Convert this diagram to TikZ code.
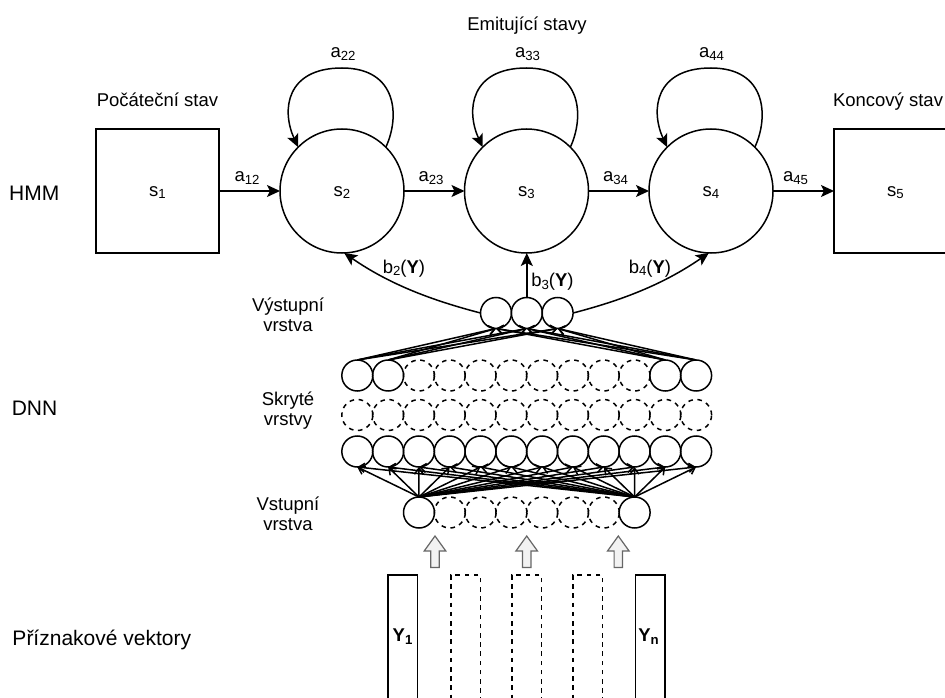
\documentclass[tikz,border=0pt]{standalone}
\usepackage{fontspec}
\setmainfont{Liberation Sans}
\usetikzlibrary{arrows.meta,calc}
\newcommand{\lsub}[1]{\raisebox{-2.5pt}{\fontsize{13.2}{14}\selectfont #1}}
\begin{document}
\begin{tikzpicture}[x=1pt,y=-1pt,line width=1.5pt,
  every node/.style={inner sep=0pt,outer sep=0pt,font=\fontsize{18.5}{20}\selectfont},
  state/.style={circle,draw,minimum size=124pt,text height=12pt,text depth=2pt},
  endstate/.style={rectangle,draw,minimum width=123pt,minimum height=124pt,text height=12pt,text depth=2pt},
  neuron/.style={circle,draw,minimum size=31pt},
  ghost/.style={neuron,dash pattern=on 4.6pt off 4.6pt},
  harrow/.style={-{Stealth[length=13pt,width=12pt,inset=3pt]}},
  narrow/.style={-{Straight Barb[length=6pt,width=9pt]}},
  txt/.style={anchor=base},
  big/.style={anchor=base,font=\fontsize{21}{24}\selectfont},
  two/.style={anchor=base,align=center},
  feat/.style={rectangle,draw,minimum width=29.5pt,minimum height=125pt,anchor=north},
  featghost/.style={feat,dash pattern=on 4.6pt off 4.6pt},
  blockarrow/.style={draw=black!60,fill=black!5,line width=1.2pt,line join=miter}
]
\useasboundingbox (0,0) rectangle (945,698);
\clip (0,0) rectangle (945,698);

% HMM states
\node[endstate] (s1) at (157.5,191) {s\lsub{1}};
\node[state] (s2) at (342,191) {s\lsub{2}};
\node[state] (s3) at (526.5,191) {s\lsub{3}};
\node[state] (s4) at (711,191) {s\lsub{4}};
\node[endstate] (s5) at (895.5,191) {s\lsub{5}};

\node[txt] (lstart) at (157.5,106.7) {Počáteční stav};
\node[anchor=base west] (lend) at (833,106.5) {Koncový stav};
\node[txt] (lemit) at (527,30.5) {Emitující stavy};

% self loops
\foreach \n in {s2,s3,s4}
  \draw[harrow] (\n.45) .. controls +(14,-30) and +(56,0) .. ($(\n.center)+(0,-123)$)
     .. controls +(-56,0) and +(-17,-37) .. (\n.135);
\node[txt] (a22) at (343,58) {a\lsub{22}};
\node[txt] (a33) at (527.5,58) {a\lsub{33}};
\node[txt] (a44) at (711.5,58) {a\lsub{44}};

% transitions
\draw[harrow] (s1) -- (s2);
\draw[harrow] (s2) -- (s3);
\draw[harrow] (s3) -- (s4);
\draw[harrow] (s4) -- (s5);
\node[txt] (a12) at (247,181.5) {a\lsub{12}};
\node[txt] (a23) at (431,181.5) {a\lsub{23}};
\node[txt] (a34) at (615.5,181.5) {a\lsub{34}};
\node[txt] (a45) at (795.5,181.5) {a\lsub{45}};

% DNN neurons
\foreach \i in {1,2,3} \node[neuron] (o\i) at ({465.2+30.8*\i},313) {};
\foreach \i in {0,1,10,11} \node[neuron] (ht\i) at ({357.3+30.8*\i},375.5) {};
\foreach \i in {2,...,9} \node[ghost] (ht\i) at ({357.3+30.8*\i},375.5) {};
\foreach \i in {0,...,11} \node[ghost] (hm\i) at ({357.3+30.8*\i},415) {};
\foreach \i in {0,...,11} \node[neuron] (hb\i) at ({357.3+30.8*\i},451.5) {};
\foreach \i in {0,7} \node[neuron] (in\i) at ({419+30.8*\i},512.5) {};
\foreach \i in {1,...,6} \node[ghost] (in\i) at ({419+30.8*\i},512.5) {};

% DNN connections
\foreach \s in {0,7} \foreach \t in {0,...,11} \draw[narrow] (in\s.north) -- (hb\t.south);
\foreach \s in {0,1,10,11} \foreach \t in {1,2,3} \draw[narrow] (ht\s.north) -- (o\t.south);

% emissions
\draw[harrow] (o1.west) .. controls +(-50,-13) and +(45,31) .. (s2.-88);
\draw[harrow] (o2.north) -- (o2.north |- s3.south);
\draw[harrow] (o3.east) .. controls +(50,-13) and +(-45,31) .. (s4.-92);
\node[txt] (b2) at (404,273) {b\lsub{2}(\textbf{Y})};
\node[txt] (b3) at (552.5,286.5) {b\lsub{3}(\textbf{Y})};
\node[txt] (b4) at (650,273) {b\lsub{4}(\textbf{Y})};

% layer labels (base = baseline of last line)
\node[two] (lout) at (288,331.7) {Výstupní\\vrstva};
\node[two] (lhid) at (288,425) {Skryté\\vrstvy};
\node[two] (lin) at (288,530) {Vstupní\\vrstva};

% section labels
\node[big] (lhmm) at (34.3,200.7) {HMM};
\node[big] (ldnn) at (34.5,415) {DNN};
\node[big,anchor=base west] (lfeat) at (12.5,645) {Příznakové vektory};

% feature vectors
\node[feat] (y1) at (402.5,575) {};
\node[featghost] (yd1) at (465.5,575) {};
\node[featghost] (yd2) at (526.5,575) {};
\node[featghost] (yd3) at (587.5,575) {};
\node[feat] (yn) at (650,575) {};
\node[txt] (y1l) at (402.5,641.7) {\textbf{Y\lsub{1}}};
\node[txt] (ynl) at (648.5,641.7) {\textbf{Y\lsub{n}}};

% block arrows
\foreach \x in {435,526.7,618.3}
  \draw[blockarrow] (\x,536) -- ++(10.8,15) -- ++(-6.6,0) -- ++(0,16.5) -- ++(-8.4,0)
     -- ++(0,-16.5) -- ++(-6.6,0) -- cycle;
\end{tikzpicture}
\end{document}
